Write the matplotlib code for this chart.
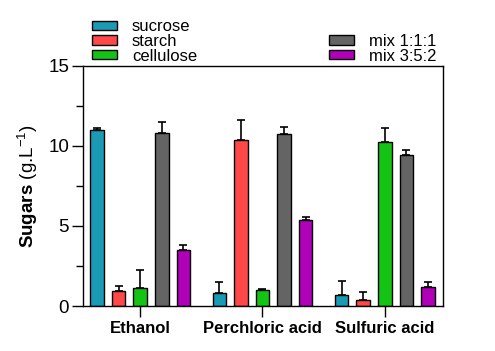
import matplotlib.pyplot as plt
import numpy as np
from matplotlib.ticker import MultipleLocator

plt.rcParams['font.family'] = ['Liberation Sans', 'DejaVu Sans']
plt.rcParams['mathtext.fontset'] = 'custom'
plt.rcParams['mathtext.rm'] = 'Liberation Sans'
plt.rcParams['mathtext.bf'] = 'Liberation Sans:bold'

groups = ['Ethanol', 'Perchloric acid', 'Sulfuric acid']
series = ['sucrose', 'starch', 'cellulose', 'mix 1:1:1', 'mix 3:5:2']
colors = ['#1a9ab5', '#ff4848', '#14c414', '#646464', '#b000b8']

# mean values per series (Ethanol, Perchloric, Sulfuric)
sucrose = [11.0, 0.81, 0.69]
starch = [0.92, 10.4, 0.35]
cellulose = [1.1, 0.98, 10.23]
mix111 = [10.8, 10.73, 9.42]
mix352 = [3.48, 5.37, 1.19]

# upper error (sd)
sucrose_err = [0.1, 0.71, 0.89]
starch_err = [0.33, 1.2, 0.55]
cellulose_err = [1.17, 0.1, 0.87]
mix111_err = [0.7, 0.47, 0.35]
mix352_err = [0.32, 0.17, 0.29]

values = [sucrose, starch, cellulose, mix111, mix352]
errors = [sucrose_err, starch_err, cellulose_err, mix111_err, mix352_err]

fig = plt.figure(figsize=(4.95, 3.51), dpi=100)
ax = fig.add_axes([0.1677, 0.1282, 0.7273, 0.6838])

gap = 5.67
width = 0.63
centers = np.arange(len(groups)) * gap
bars = []
for i, (vals, errs) in enumerate(zip(values, errors)):
    x = centers + (i - 2)
    b = ax.bar(x, vals, width, color=colors[i], edgecolor='black', linewidth=1,
               label=series[i], zorder=2)
    ax.errorbar(x, vals, yerr=[np.zeros(len(errs)), errs], fmt='none',
                ecolor='black', elinewidth=1.2, capsize=3, capthick=1.2, zorder=1)
    bars.append(b)

ax.set_xlim(-2.65, centers[-1] + 2.7)
ax.set_ylim(0, 15)
ax.yaxis.set_major_locator(MultipleLocator(5))
ax.yaxis.set_minor_locator(MultipleLocator(2.5))
ax.set_xticks(centers)
ax.set_xticklabels(groups, fontweight='bold', fontsize=12)
ax.tick_params(axis='y', which='major', length=8, width=1, labelsize=13.5, pad=2)
ax.tick_params(axis='y', which='minor', length=5, width=1)
ax.tick_params(axis='x', length=8, width=1, pad=3)
for s in ax.spines.values():
    s.set_linewidth(1)
ax.set_ylabel(r'$\mathbf{Sugars}$ (g.L$^{-1}$)', fontsize=13.5, labelpad=6)

leg_kw = dict(loc='upper left', frameon=False, fontsize=12, handlelength=1.5,
              handleheight=0.48, labelspacing=-0.02, borderpad=0, handletextpad=0.9)
leg1 = fig.legend(bars[:3], series[:3], bbox_to_anchor=(0.169, 0.969), **leg_kw)
leg2 = fig.legend(bars[3:], series[3:], bbox_to_anchor=(0.648, 0.927), **leg_kw)

fig.savefig('out.png', dpi=100)
